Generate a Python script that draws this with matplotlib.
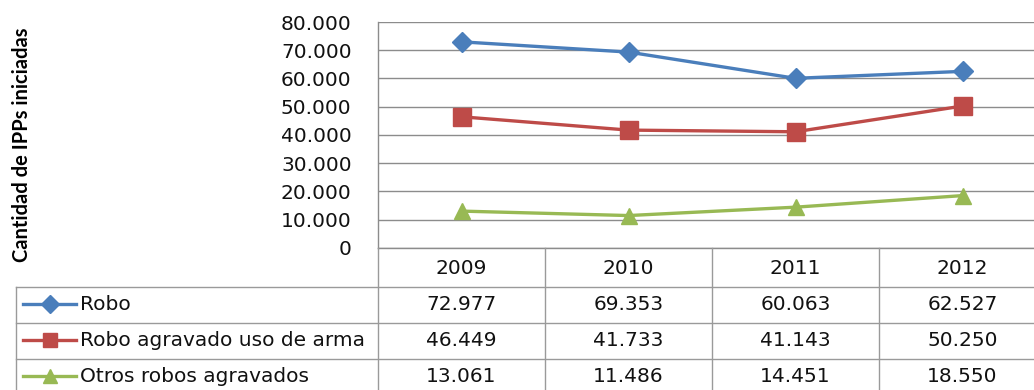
import numpy as np
import matplotlib
matplotlib.use("Agg")
import matplotlib.pyplot as plt
from matplotlib.lines import Line2D
from matplotlib.transforms import blended_transform_factory

years = ["2009", "2010", "2011", "2012"]
series_names = ["Robo", "Robo agravado uso de arma", "Otros robos agravados"]
robo = [72977, 69353, 60063, 62527]
robo_arma = [46449, 41733, 41143, 50250]
otros = [13061, 11486, 14451, 18550]
y_ticks = [0, 10000, 20000, 30000, 40000, 50000, 60000, 70000, 80000]
y_label = "Cantidad de IPPs iniciadas"

series = [robo, robo_arma, otros]
colors = ["#4A7EBB", "#BE4B48", "#98B954"]
markers = ["D", "s", "^"]
msizes = [10.5, 12.5, 12]

W, H = 1034, 390
fig = plt.figure(figsize=(W / 100, H / 100), dpi=100)


def fx(px):
    return px / W


def fy(py):
    return 1 - py / H


def fmt(v):
    return f"{v:,}".replace(",", ".")


grid_c = "#8c8c8c"
table_c = "#9a9a9a"
txt_c = "#111111"
fs = 14.5

ax = fig.add_axes([fx(378), fy(248), fx(1046) - fx(378), fy(22) - fy(248)])
x = np.arange(len(years))
ax.set_xlim(-0.5, len(years) - 0.5)
ax.set_ylim(0, 80000)
ax.set_yticks(y_ticks)
ax.set_yticklabels([fmt(v) for v in y_ticks])
ax.set_xticks([])
ax.grid(axis="y", color=grid_c, lw=1)
ax.set_axisbelow(True)
for s in ["top", "right"]:
    ax.spines[s].set_visible(False)
for s in ["left", "bottom"]:
    ax.spines[s].set_color(grid_c)
    ax.spines[s].set_linewidth(1)
ax.tick_params(axis="y", length=0, pad=19, labelsize=fs, labelcolor=txt_c)

for vals, c, m, ms in zip(series, colors, markers, msizes):
    ax.plot(x, vals, color=c, lw=2.4, marker=m, markersize=ms,
            markerfacecolor=c, markeredgecolor=c, clip_on=False, zorder=3)

fig.text(fx(22), fy(145), y_label, rotation=90, ha="center", va="center",
         fontsize=14.5, fontfamily="Lato", fontweight="bold", color="black")

# data table
bt = blended_transform_factory(ax.transData, fig.transFigure)
row_lines = [287, 323, 359]
row_centers = [304, 340, 376]
for py in row_lines:
    fig.add_artist(Line2D([fx(16), 1.0], [fy(py), fy(py)], color=table_c, lw=1))
fig.add_artist(Line2D([fx(16), fx(16)], [fy(287), 0], color=table_c, lw=1))
fig.add_artist(Line2D([fx(378), fx(378)], [fy(248), 0], color=table_c, lw=1))
for i in range(1, len(years)):
    fig.add_artist(Line2D([i - 0.5, i - 0.5], [fy(248), 0], transform=bt,
                          color=table_c, lw=1))

for i, yr in enumerate(years):
    fig.text(i, fy(268), yr, transform=bt, ha="center", va="center",
             fontsize=fs, color=txt_c)

for r, (name, vals, c, m, ms) in enumerate(zip(series_names, series, colors,
                                               markers, msizes)):
    yc = fy(row_centers[r])
    fig.add_artist(Line2D([fx(23), fx(76)], [yc, yc], color=c, lw=2.4))
    fig.add_artist(Line2D([fx(49.5)], [yc], color=c, marker=m,
                          markersize=ms * 0.85, markerfacecolor=c,
                          markeredgecolor=c))
    fig.text(fx(80), yc, name, ha="left", va="center", fontsize=fs,
             color=txt_c)
    for i, v in enumerate(vals):
        fig.text(i, yc, fmt(v), transform=bt, ha="center", va="center",
                 fontsize=fs, color=txt_c)

fig.savefig("out.png", dpi=100)
